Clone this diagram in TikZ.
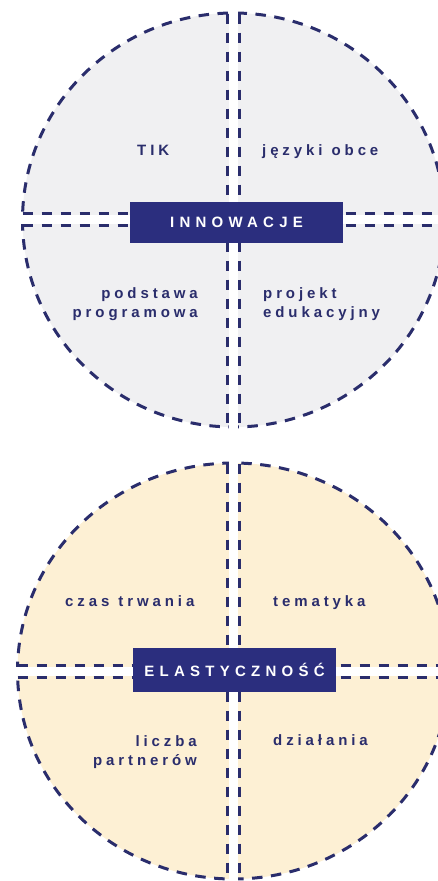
\documentclass[tikz,border=0pt]{standalone}
\usepackage{fontspec}
\setmainfont{Liberation Sans}
\newfontfamily\lblfont{Liberation Sans}[LetterSpace=26]
\newfontfamily\boxfont{Liberation Sans}[LetterSpace=35]
\definecolor{navy}{HTML}{2B2E7E}
\definecolor{lineblue}{HTML}{2A2D6C}
\definecolor{grayfill}{HTML}{F0F0F2}
\definecolor{creamfill}{HTML}{FDF0D4}
\newcommand{\wsp}{\hspace*{1pt} }
\tikzset{
  dashline/.style={draw=lineblue, line width=3pt, dash pattern=on 10.5pt off 8.5pt},
  centerbox/.style={fill=navy, inner sep=0pt, text=white, font=\boxfont\bfseries\fontsize{15}{18}\selectfont},
  lbl/.style={text=lineblue, inner sep=0pt, font=\lblfont\bfseries\fontsize{15}{19}\selectfont},
}
\begin{document}
\begin{tikzpicture}[x=1pt,y=-1pt]
\useasboundingbox (0,0) rectangle (438,881);

% ---------- top circle ----------
\fill[grayfill] (233.5,220) ellipse [x radius=211, y radius=207];
\draw[dashline] (233.5,220) ellipse [x radius=211, y radius=207];
\fill[white] (229,10) rectangle (238,430);
\fill[white] (15,214.5) rectangle (438,223.5);
\draw[dashline] (227.5,13.5) -- (227.5,426.5);
\draw[dashline] (239.5,13.5) -- (239.5,426.5);
\draw[dashline] (22.5,213) -- (438,213);
\draw[dashline] (22.5,225) -- (438,225);
\node[centerbox, minimum width=213pt, minimum height=41pt] (inn) at (236.5,222.5) {INNOWACJE};

\node[lbl, anchor=base west] (tik) at (137,155) {TIK};
\node[lbl, anchor=base west] (jez) at (262,155) {języki\wsp obce};
\node[lbl, anchor=base east, align=right] (pod) at (198,317) {podstawa\\programowa};
\node[lbl, anchor=base west, align=left] (pro) at (263,317) {projekt\\edukacyjny};

% ---------- bottom circle ----------
\fill[creamfill] (233.5,671) ellipse [x radius=216, y radius=208];
\draw[dashline] (233.5,671) ellipse [x radius=216, y radius=208];
\fill[white] (229,460) rectangle (238,881);
\fill[white] (10,666.5) rectangle (438,675.5);
\draw[dashline] (227.5,463.5) -- (227.5,878.5);
\draw[dashline] (239.5,463.5) -- (239.5,878.5);
\draw[dashline] (17.5,665) -- (438,665);
\draw[dashline] (17.5,677) -- (438,677);
\node[centerbox, minimum width=203pt, minimum height=44pt] (ela) at (234.5,670) {ELASTYCZNOŚĆ};

\node[lbl, anchor=base west] (czas) at (65,606) {czas\wsp trwania};
\node[lbl, anchor=base west] (tem) at (273,606) {tematyka};
\node[lbl, anchor=base east, align=right] (lic) at (197,765) {liczba\\partnerów};
\node[lbl, anchor=base west] (dzi) at (273,745) {działania};
\end{tikzpicture}
\end{document}
